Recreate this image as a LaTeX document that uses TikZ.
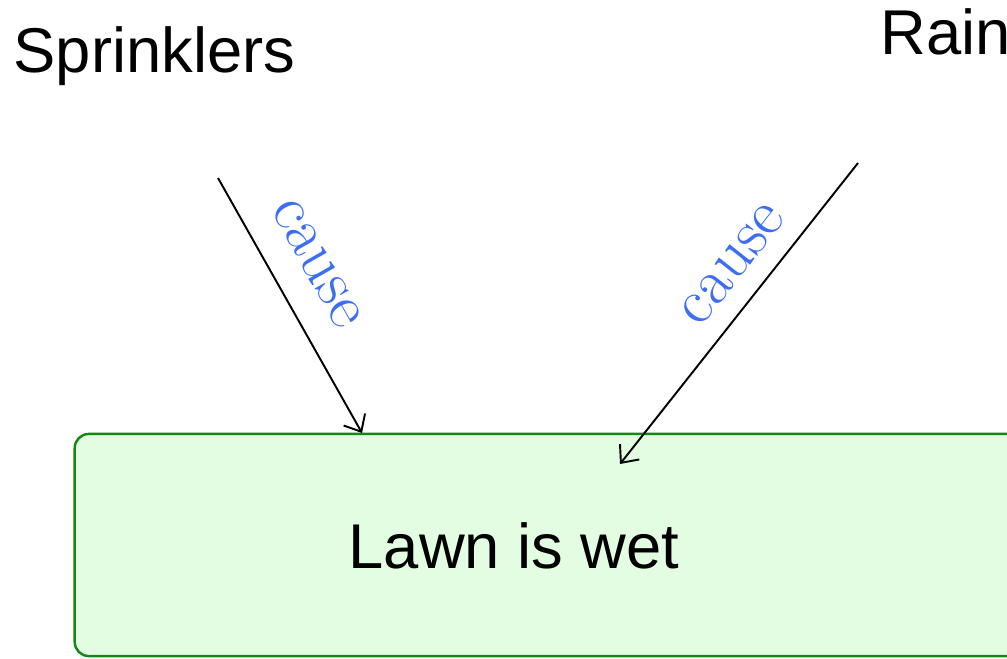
\documentclass[tikz,border=0pt]{standalone}
\usepackage{fontspec}
\setsansfont{Liberation Sans}
\usetikzlibrary{arrows.meta}
\definecolor{causeblue}{RGB}{59,110,245}
\definecolor{lawnfill}{RGB}{227,253,227}
\definecolor{lawnedge}{RGB}{22,135,22}
\tikzset{
  event/.style={inner sep=0pt, anchor=base west, font=\sffamily\fontsize{18}{22}\selectfont},
  lawnbox/.style={draw=lawnedge, fill=lawnfill, line width=0.7pt, rounded corners=4pt, inner sep=0pt},
  causes/.style={-{Straight Barb[length=4pt,width=7pt]}, line width=0.55pt},
  causelabel/.style={sloped, inner sep=0pt, text=causeblue, font=\fontsize{18.5}{22}\selectfont}
}
\begin{document}
\begin{tikzpicture}[x=0.01cm, y=-0.01cm]
      \useasboundingbox (0,0) rectangle (1007,658);
      \node[lawnbox, minimum width=9.6cm, minimum height=2.22cm] (lawn) at (555,545) {};
      \draw
        (13,73) node[event] (sprinklers){Sprinklers}
        (880,55) node[event] (rain){Rain}
        (348,568) node[event] (wet){Lawn is wet};
      \coordinate (sprinklersfoot) at (218,178);
      \coordinate (rainfoot) at (858,163);
      \coordinate (sprinklershit) at (362,433);
      \coordinate (rainhit) at (620,464);
      \begin{scope}[causes]
        \draw (sprinklersfoot) to node[causelabel, pos=0.42, above=8pt] (c1){cause} (sprinklershit);
        \draw (rainfoot) to node[causelabel, pos=0.41, above=5.5pt] (c2){cause} (rainhit);
      \end{scope}
    \end{tikzpicture}
\end{document}
